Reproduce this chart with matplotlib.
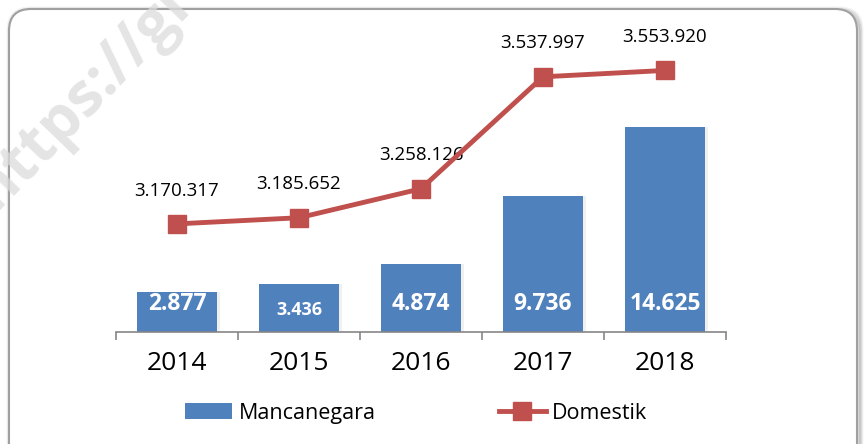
import matplotlib.pyplot as plt
from matplotlib.patches import FancyBboxPatch
from matplotlib.lines import Line2D
from matplotlib.patches import Patch

plt.rcParams['font.family'] = ['Open Sans', 'DejaVu Sans']

# data
tahun = ['2014', '2015', '2016', '2017', '2018']
mancanegara = [2877, 3436, 4874, 9736, 14625]
domestik = [3170317, 3185652, 3258126, 3537997, 3553920]
label_manca = ['2.877', '3.436', '4.874', '9.736', '14.625']
label_dom = ['3.170.317', '3.185.652', '3.258.126', '3.537.997', '3.553.920']

biru = '#4F81BD'
merah = '#C0504D'

W, H = 865, 444
fig = plt.figure(figsize=(W / 100, H / 100), dpi=100)

# background frame with rounded corners and shadow
bg = fig.add_axes([0, 0, 1, 1])
bg.set_xlim(0, W)
bg.set_ylim(H, 0)
bg.axis('off')
for i, a in enumerate([0.05, 0.07, 0.09, 0.12]):
    off = 4 - i
    bg.add_patch(FancyBboxPatch((10 - off + 2, 10 - off + 2), 846 + 2 * off, 500,
                                boxstyle='round,pad=0,rounding_size=22',
                                fc='none', ec='black', lw=2, alpha=a))
bg.add_patch(FancyBboxPatch((9, 9), 848, 500, boxstyle='round,pad=0,rounding_size=22',
                            fc='white', ec='#a0a0a0', lw=1.5))

# main axes
left, right = 116 / W, 726 / W
bottom, top = (H - 332) / H, (H - 52) / H
ax = fig.add_axes([left, bottom, right - left, top - bottom])
ax.patch.set_alpha(0)
x = list(range(len(tahun)))

# bar shadows then bars
ax.bar([i + 0.025 for i in x], mancanegara, width=0.66, color='#000000', alpha=0.06, zorder=1)
ax.bar(x, mancanegara, width=0.66, color=biru, zorder=2)
ax.set_xlim(-0.5, 4.5)
ax.set_ylim(0, 20000)

for sp in ['top', 'right', 'left']:
    ax.spines[sp].set_visible(False)
ax.spines['bottom'].set_color('#868686')
ax.spines['bottom'].set_linewidth(1.2)
ax.set_yticks([])
ax.set_xticks([i - 0.5 for i in range(len(tahun) + 1)])
ax.set_xticklabels([])
ax.tick_params(axis='x', which='major', length=6, width=1.2, color='#868686', direction='out')
ax.set_xticks(x, minor=True)
ax.set_xticklabels(tahun, minor=True, fontsize=19)
ax.tick_params(axis='x', which='minor', length=0, pad=14)

for i, lab in enumerate(label_manca):
    fs = 13 if lab == '3.436' else 16.5
    dy = 22 if lab == '3.436' else 28
    ax.annotate(lab, (i, 0), xytext=(0, dy * 0.72), textcoords='offset points',
                ha='center', va='center', color='white', fontweight='bold', fontsize=fs, zorder=3)

# line on secondary axis
ax2 = ax.twinx()
ax2.set_ylim(2900000, 3600000)
ax2.axis('off')
ax2.plot(x, domestik, color=merah, lw=3.5, marker='s', markersize=13, zorder=4)
for i, lab in enumerate(label_dom):
    ax2.annotate(lab, (i, domestik[i]), xytext=(0, 24), textcoords='offset points',
                 ha='center', va='center', fontsize=13.5, color='black')

# legend
handles = [Patch(facecolor=biru, edgecolor='none'),
           Line2D([0], [0], color=merah, lw=3.5, marker='s', markersize=13)]
fig.legend(handles, ['Mancanegara', 'Domestik'], loc='center left',
           bbox_to_anchor=(185 / W, (H - 413) / H), ncol=2, frameon=False,
           fontsize=15.5, handlelength=2.2, handletextpad=0.3, columnspacing=5.7,
           borderpad=0, borderaxespad=0)

# watermark
fig.text(-0.045, 0.50, 'https://gi', rotation=46, fontsize=44, fontweight='bold',
         color='#dcdcdc', alpha=0.75, ha='left', va='bottom', zorder=10)

fig.savefig('out.png', dpi=100)
